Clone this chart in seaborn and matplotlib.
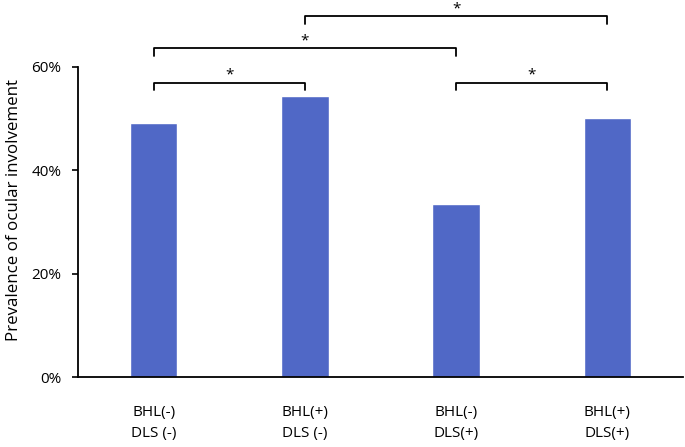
import matplotlib
matplotlib.use("Agg")
import matplotlib.pyplot as plt
import seaborn as sns
import pandas as pd
from matplotlib.ticker import PercentFormatter

# data
groups = ["BHL(-)\nDLS (-)", "BHL(+)\nDLS (-)", "BHL(-)\nDLS(+)", "BHL(+)\nDLS(+)"]
prevalence = [49.1, 54.3, 33.5, 50.1]

# significance brackets: (left bar, right bar, height of bar line in %)
brackets = [(0, 1, 56.8), (2, 3, 56.8), (0, 2, 63.5), (1, 3, 69.7)]

sns.set_style("white")
plt.rcParams["font.family"] = ["Open Sans", "DejaVu Sans"]
plt.rcParams["text.color"] = "black"
plt.rcParams["axes.labelcolor"] = "black"
plt.rcParams["xtick.color"] = "black"
plt.rcParams["ytick.color"] = "black"

df = pd.DataFrame({"group": groups, "prevalence": prevalence})

fig = plt.figure(figsize=(6.85, 4.47), dpi=100)
ax = fig.add_axes([0.1139, 0.156, 0.8831, 0.695])

sns.barplot(data=df, x="group", y="prevalence", color="#5068C6", width=0.314,
            saturation=1, ax=ax)

ax.set_xlim(-0.5, 3.5)
ax.set_ylim(0, 60)
ax.set_yticks([0, 20, 40, 60])
ax.yaxis.set_major_formatter(PercentFormatter(decimals=0))
ax.set_xlabel("")
ax.set_ylabel("Prevalence of ocular involvement", fontsize=12.2)
ax.yaxis.set_label_coords(-0.092, 0.539)

for s in ["top", "right"]:
    ax.spines[s].set_visible(False)
for s in ["left", "bottom"]:
    ax.spines[s].set_color("black")
    ax.spines[s].set_linewidth(1.3)

ax.tick_params(axis="y", direction="out", length=4, width=1.2, color="black",
               labelsize=11, pad=8, left=True)
ax.tick_params(axis="x", length=0, labelsize=11, pad=20)
for lab in ax.get_xticklabels():
    lab.set_linespacing(1.5)

# brackets with stars
leg = 1.4
for a, b, h in brackets:
    ax.plot([a, a, b, b], [h - leg, h, h, h - leg], color="black", lw=1.3,
            clip_on=False)
    ax.text((a + b) / 2, h + 1.5, "*", ha="center", va="center", fontsize=11,
            clip_on=False)

fig.savefig("out.png", dpi=100)
